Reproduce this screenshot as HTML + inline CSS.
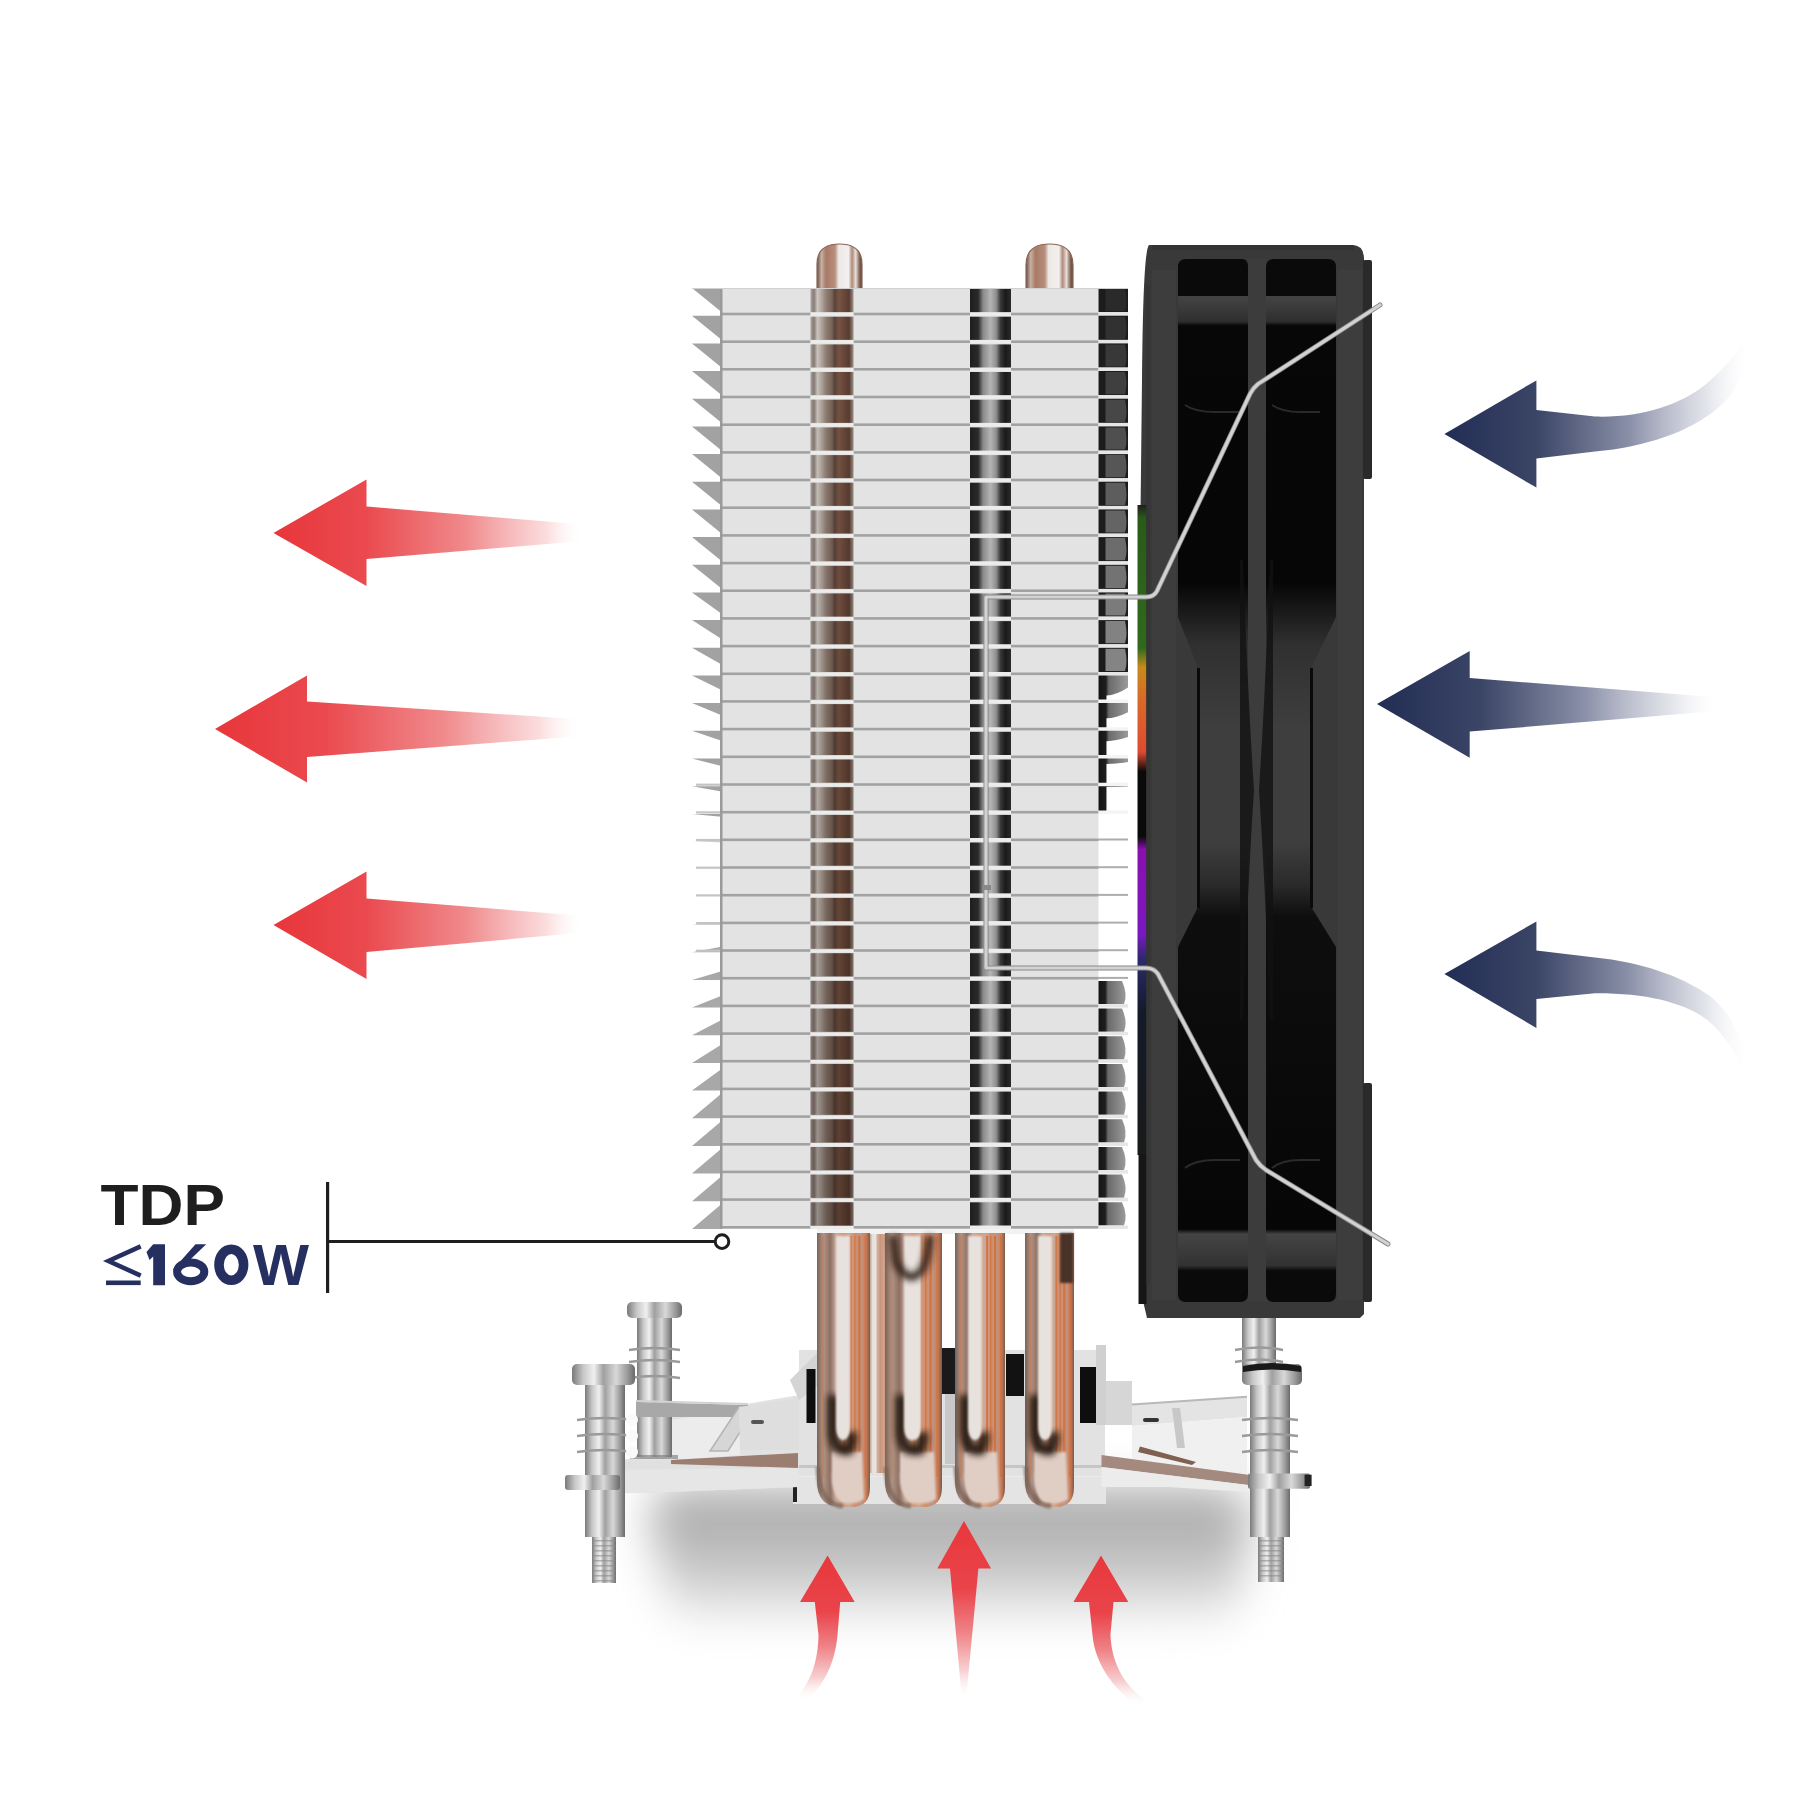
<!DOCTYPE html>
<html><head><meta charset="utf-8"><title>CPU cooler airflow</title>
<style>html,body{margin:0;padding:0;background:#fff;width:1800px;height:1800px;overflow:hidden}svg{display:block}</style>
</head><body><svg width="1800" height="1800" viewBox="0 0 1800 1800"><defs><linearGradient id="redL" x1="0" y1="0" x2="1" y2="0">
<stop offset="0" stop-color="#e8363b"/><stop offset="0.3" stop-color="#ea4a4f"/>
<stop offset="0.62" stop-color="#f08a8c"/><stop offset="0.88" stop-color="#fbd9da" stop-opacity="0.9"/><stop offset="1" stop-color="#ffffff" stop-opacity="0"/></linearGradient><linearGradient id="blueR" x1="0" y1="0" x2="1" y2="0">
<stop offset="0" stop-color="#222d55"/><stop offset="0.3" stop-color="#3b4566"/>
<stop offset="0.6" stop-color="#8a90a8"/><stop offset="0.85" stop-color="#dcdee6" stop-opacity="0.8"/><stop offset="1" stop-color="#ffffff" stop-opacity="0"/></linearGradient><linearGradient id="redU" x1="0" y1="0" x2="0" y2="1">
<stop offset="0" stop-color="#e8383c"/><stop offset="0.38" stop-color="#e9444a"/><stop offset="0.62" stop-color="#ef8286"/><stop offset="0.84" stop-color="#f8d2d4"/><stop offset="1" stop-color="#ffffff" stop-opacity="0"/></linearGradient><radialGradient id="shadow" cx="0.5" cy="0.35" r="0.5">
<stop offset="0" stop-color="#a4a4a4"/><stop offset="0.45" stop-color="#b4b4b4"/><stop offset="0.75" stop-color="#dedede"/><stop offset="1" stop-color="#ffffff" stop-opacity="0"/></radialGradient><linearGradient id="pipeStrip" x1="0" y1="0" x2="1" y2="0">
<stop offset="0" stop-color="#b0aaa6"/><stop offset="0.08" stop-color="#8a7e78"/><stop offset="0.16" stop-color="#d0cac4"/><stop offset="0.26" stop-color="#b4aaa2"/>
<stop offset="0.36" stop-color="#948278"/><stop offset="0.5" stop-color="#7a665a"/><stop offset="0.56" stop-color="#5a463c"/><stop offset="0.66" stop-color="#7a5646"/><stop offset="0.9" stop-color="#5a3e32"/><stop offset="1" stop-color="#a09890"/></linearGradient><linearGradient id="stripB" x1="0" y1="0" x2="1" y2="0">
<stop offset="0" stop-color="#1e1e1e"/><stop offset="0.2" stop-color="#2a2a2a"/><stop offset="0.32" stop-color="#8a8a8a"/><stop offset="0.5" stop-color="#b4b4b4"/><stop offset="0.64" stop-color="#8e8e8e"/><stop offset="0.74" stop-color="#3a3a3a"/><stop offset="0.86" stop-color="#1a1a1a"/><stop offset="1" stop-color="#2a2a2a"/></linearGradient><linearGradient id="stripC" x1="0" y1="0" x2="1" y2="0">
<stop offset="0" stop-color="#1c1c1c"/><stop offset="0.25" stop-color="#262626"/><stop offset="0.5" stop-color="#3e3e3e"/><stop offset="1" stop-color="#505050"/></linearGradient><linearGradient id="stripC2" x1="0" y1="0" x2="1" y2="0">
<stop offset="0" stop-color="#141414"/><stop offset="0.25" stop-color="#1e1e1e"/><stop offset="0.35" stop-color="#6a6a6a"/><stop offset="1" stop-color="#9a9a9a"/></linearGradient><linearGradient id="metal" x1="0" y1="0" x2="1" y2="0">
<stop offset="0" stop-color="#7a7a7a"/><stop offset="0.18" stop-color="#c8c8c8"/><stop offset="0.35" stop-color="#f0f0f0"/><stop offset="0.5" stop-color="#a0a0a0"/><stop offset="0.7" stop-color="#d8d8d8"/><stop offset="0.88" stop-color="#9a9a9a"/><stop offset="1" stop-color="#6a6a6a"/></linearGradient><linearGradient id="copper" x1="0" y1="0" x2="1" y2="0">
<stop offset="0" stop-color="#8a7466"/><stop offset="0.1" stop-color="#a88a78"/><stop offset="0.22" stop-color="#e6dcd6"/><stop offset="0.32" stop-color="#f2ece8"/><stop offset="0.42" stop-color="#b98a70"/>
<stop offset="0.55" stop-color="#d2845e"/><stop offset="0.68" stop-color="#c49a86"/><stop offset="0.8" stop-color="#d7886a"/><stop offset="0.92" stop-color="#9a7a6a"/><stop offset="1" stop-color="#6a5a50"/></linearGradient><linearGradient id="capG" x1="0" y1="0" x2="1" y2="0">
<stop offset="0" stop-color="#6a5046"/><stop offset="0.1" stop-color="#c8b0a4"/><stop offset="0.2" stop-color="#a87a66"/><stop offset="0.4" stop-color="#b88e7c"/><stop offset="0.48" stop-color="#ece8e6"/><stop offset="0.7" stop-color="#f2f0ee"/><stop offset="0.78" stop-color="#b08a78"/><stop offset="0.86" stop-color="#e6e0dc"/><stop offset="0.94" stop-color="#8a6a5a"/><stop offset="1" stop-color="#5a4038"/></linearGradient><linearGradient id="fanMid" x1="0" y1="0" x2="0" y2="1">
<stop offset="0" stop-color="#3a3a3a" stop-opacity="0"/><stop offset="0.25" stop-color="#3a3a3a" stop-opacity="0.9"/><stop offset="0.6" stop-color="#3a3a3a" stop-opacity="0.9"/><stop offset="1" stop-color="#3a3a3a" stop-opacity="0"/></linearGradient><linearGradient id="rgb" x1="0" y1="0" x2="0" y2="1">
<stop offset="0" stop-color="#1e1e1e"/><stop offset="0.02" stop-color="#2a5a1a"/><stop offset="0.22" stop-color="#2f6a1c"/><stop offset="0.25" stop-color="#c88a1a"/><stop offset="0.3" stop-color="#d86a28"/><stop offset="0.38" stop-color="#e04a30"/><stop offset="0.41" stop-color="#0a0a0a"/><stop offset="0.51" stop-color="#0a0a0a"/><stop offset="0.53" stop-color="#8a10b0"/><stop offset="0.66" stop-color="#7a18c0"/><stop offset="0.7" stop-color="#2a2a6a"/><stop offset="0.78" stop-color="#141a2a"/><stop offset="1" stop-color="#1a1a1a"/></linearGradient><filter id="blur30" x="-50%" y="-50%" width="200%" height="200%"><feGaussianBlur stdDeviation="22"/></filter><linearGradient id="shG" x1="0" y1="0" x2="0" y2="1"><stop offset="0" stop-color="#a6a6a6"/><stop offset="0.35" stop-color="#b6b6b6"/><stop offset="0.7" stop-color="#d4d4d4"/><stop offset="1" stop-color="#ffffff"/></linearGradient><linearGradient id="copper2" x1="0" y1="0" x2="1" y2="0">
<stop offset="0" stop-color="#6a5a52"/><stop offset="0.06" stop-color="#9a8274"/><stop offset="0.2" stop-color="#bca496"/><stop offset="0.3" stop-color="#e6dfda"/><stop offset="0.42" stop-color="#ebe5e1"/><stop offset="0.5" stop-color="#cdb0a0"/>
<stop offset="0.62" stop-color="#c8967c"/><stop offset="0.75" stop-color="#d2a48e"/><stop offset="0.88" stop-color="#c08a70"/><stop offset="0.96" stop-color="#9a7868"/><stop offset="1" stop-color="#6a5a52"/></linearGradient><filter id="blur3" x="-50%" y="-50%" width="200%" height="200%"><feGaussianBlur stdDeviation="3"/></filter><filter id="blur4" x="-50%" y="-50%" width="200%" height="200%"><feGaussianBlur stdDeviation="4.5"/></filter><filter id="blur1" x="-50%" y="-50%" width="200%" height="200%"><feGaussianBlur stdDeviation="1.2"/></filter><linearGradient id="copper3" x1="0" y1="0" x2="1" y2="0">
<stop offset="0" stop-color="#7a6256"/><stop offset="0.12" stop-color="#b09486"/><stop offset="0.25" stop-color="#8e7062"/><stop offset="0.36" stop-color="#c8aa9c"/><stop offset="0.5" stop-color="#d49a7c"/><stop offset="0.6" stop-color="#c8aa9a"/>
<stop offset="0.72" stop-color="#d48c66"/><stop offset="0.82" stop-color="#bc9888"/><stop offset="0.92" stop-color="#d08058"/><stop offset="1" stop-color="#7a5a4a"/></linearGradient><linearGradient id="shadeA" x1="0" y1="0" x2="0" y2="1"><stop offset="0" stop-color="#000" stop-opacity="0"/><stop offset="0.4" stop-color="#000" stop-opacity="0.1"/><stop offset="1" stop-color="#000" stop-opacity="0.32"/></linearGradient><linearGradient id="recG" x1="0" y1="0" x2="0" y2="1">
<stop offset="0" stop-color="#0a0a0a"/><stop offset="0.035" stop-color="#0a0a0a"/><stop offset="0.036" stop-color="#444444"/><stop offset="0.06" stop-color="#2e2e2e"/><stop offset="0.064" stop-color="#070707"/>
<stop offset="0.31" stop-color="#060606"/><stop offset="0.37" stop-color="#303030"/><stop offset="0.45" stop-color="#3e3e3e"/><stop offset="0.56" stop-color="#3e3e3e"/><stop offset="0.6" stop-color="#2a2a2a"/><stop offset="0.63" stop-color="#0e0e0e"/>
<stop offset="0.93" stop-color="#060606"/><stop offset="0.935" stop-color="#444444"/><stop offset="0.965" stop-color="#323232"/><stop offset="0.97" stop-color="#0a0a0a"/><stop offset="1" stop-color="#0a0a0a"/></linearGradient></defs><rect x="0" y="0" width="1800" height="1800" fill="#ffffff"/><path d="M680 1488 L1210 1488 Q1250 1488 1250 1520 L1240 1600 Q1235 1630 1190 1630 L720 1630 Q675 1630 668 1600 L650 1520 Q650 1488 680 1488 Z" fill="url(#shG)" filter="url(#blur30)"/><path d="M964 1521 L991.1 1568.6 L978.4 1568.6 L966 1700 L962 1700 L950 1568.6 L937.3 1568.6 Z" fill="url(#redU)"/><path d="M827.6 1555.6 L854.7 1602 L840.2 1602 L837.5 1635 C835 1665 822 1688 805 1702 L793 1702 C812 1682 818 1660 818.5 1635 L814.8 1602 L800 1602 Z" fill="url(#redU)"/><path d="M1101 1555.6 L1128.3 1602 L1113.5 1602 L1110.4 1635 C1112 1665 1125 1688 1152 1705 L1138 1707 C1115 1690 1095 1665 1092.5 1635 L1089 1602 L1073.4 1602 Z" fill="url(#redU)"/><path d="M273.5 532.9 L366.5 479.5 L366.5 506.5 L584 524.5 L584 541 L366.5 559 L366.5 586 Z" fill="url(#redL)"/><path d="M215 729 L307 675.4 L307 701.5 L584 719.5 L584 736 L307 757 L307 782.5 Z" fill="url(#redL)"/><path d="M273.5 925 L366.5 871.6 L366.5 898.6 L584 916 L584 932.5 L366.5 952 L366.5 979 Z" fill="url(#redL)"/><path d="M1444.4 434 L1536.4 380.4 L1536.4 410 L1595 416.6 C1640 418 1680 405 1705 385 C1728 366 1744 345 1751 325 L1753 332 C1750 365 1738 392 1718 408 C1690 432 1645 447 1595 451.6 L1536.4 458.4 L1536.4 487.6 Z" fill="url(#blueR)"/><path d="M1377 704 L1469.7 651 L1469.7 678 L1723 697.8 L1723 710.5 L1469.7 731.6 L1469.7 757.7 Z" fill="url(#blueR)"/><path d="M1444.4 974 L1536.4 921.5 L1536.4 950.6 L1595 957.4 C1640 962 1680 975 1710 996 C1730 1012 1745 1040 1752 1075 L1748 1082 C1740 1058 1728 1040 1712 1024 C1690 1004 1650 993 1595 993.3 L1536.4 999 L1536.4 1027.9 Z" fill="url(#blueR)"/><text x="100.5" y="1225" font-family="Liberation Sans, sans-serif" font-weight="bold" font-size="57" fill="#1e1e1e" textLength="124.5" lengthAdjust="spacingAndGlyphs">TDP</text><path d="M140.7 1246.3 L108.5 1261 L140.7 1275.6" stroke="#253060" stroke-width="4.6" fill="none" stroke-linejoin="miter"/><rect x="106" y="1280.5" width="34.7" height="4.6" fill="#253060"/><path d="M153.2 1244.3 L165 1244.3 L165 1285.3 L153.2 1285.3 L153.2 1256.5 L149.5 1260 L146.5 1252 Z" fill="#253060"/><ellipse cx="190.7" cy="1271.8" rx="13.6" ry="9.4" stroke="#253060" stroke-width="8" fill="none"/><path d="M172.6 1270 L195.5 1244.3 L206.2 1244.3 L182.5 1267 Z" fill="#253060"/><ellipse cx="231.3" cy="1264.8" rx="12.3" ry="15.5" stroke="#253060" stroke-width="9.6" fill="none"/><path d="M254.6 1244.3 L266.2 1244.3 L274.6 1272.5 L283.4 1244.3 L292.2 1244.3 L300.9 1272.5 L307.4 1244.3 L307.4 1244.3 L307.4 1244.3 Z" fill="none"/><text x="253" y="1285.3" font-family="Liberation Sans, sans-serif" font-weight="bold" font-size="57" fill="#253060" textLength="56" lengthAdjust="spacingAndGlyphs">W</text><rect x="326" y="1182" width="3.2" height="111" fill="#1e1e1e"/><rect x="328" y="1240" width="386" height="3" fill="#1e1e1e"/><circle cx="722" cy="1241.6" r="6.8" fill="#ffffff" stroke="#1e1e1e" stroke-width="3"/><rect x="637" y="1318" width="35" height="139" fill="url(#metal)"/><rect x="627" y="1302" width="55" height="16" rx="5" fill="url(#metal)"/><path d="M629 1350 Q654.5 1346 680 1350" stroke="#9a9a9a" stroke-width="2.5" fill="none"/><path d="M629 1362 Q654.5 1358 680 1362" stroke="#9a9a9a" stroke-width="2.5" fill="none"/><path d="M629 1378 Q654.5 1374 680 1378" stroke="#9a9a9a" stroke-width="2.5" fill="none"/><rect x="1242" y="1318" width="34" height="60" fill="url(#metal)"/><path d="M1235 1350 Q1259 1345 1283 1350 M1235 1362 Q1259 1357 1283 1362" stroke="#9a9a9a" stroke-width="2.5" fill="none"/><path d="M640 1418 L740 1405 L800 1395 L800 1487 L640 1493 L600 1493 L600 1462 L640 1458 Z" fill="#e2e2e2"/><path d="M671 1420 L740 1410 L740 1455 L671 1460 Z" fill="#ececec"/><path d="M636 1402 L748 1405 L748 1417 L636 1417 Z" fill="#a8a8a8"/><path d="M636 1401 L748 1404" stroke="#d2d2d2" stroke-width="2" fill="none"/><path d="M710 1451 L728 1451 L756 1407 L739 1407 Z" fill="#d6d6d6" stroke="#b4b4b4" stroke-width="1.5"/><path d="M739 1407 L800 1398 L800 1450 L740 1450 Z" fill="#dedede"/><rect x="751" y="1420" width="13" height="4" rx="2" fill="#555"/><rect x="1104" y="1381" width="28" height="44" fill="#d6d6d6"/><path d="M1132 1404.5 L1247 1396.8 L1247 1417 L1132 1426 Z" fill="#e4e4e4"/><path d="M1132 1404.5 L1247 1396.8" stroke="#b8b8b8" stroke-width="2" fill="none"/><path d="M1132 1426 L1247 1417 L1247 1474 L1132 1462 Z" fill="#f0f0f0"/><rect x="1143" y="1418" width="16" height="4" rx="2" fill="#333"/><path d="M1172 1408 L1180 1408 L1185 1448 L1177 1448 Z" fill="#c8c8c8"/><rect x="799" y="1350" width="306" height="128" fill="#e2e2e2"/><path d="M790 1380 L835 1335 L850 1335 L850 1360 L799 1400 Z" fill="#d4d4d4"/><rect x="806.5" y="1369" width="9" height="54" fill="#0e0e0e"/><rect x="866" y="1367" width="18" height="26" fill="#141414"/><rect x="937" y="1348" width="20" height="46" fill="#1a1a1a"/><rect x="945" y="1394" width="10" height="70" fill="#c8c8c8"/><rect x="1006" y="1354" width="18" height="42" fill="#121212"/><rect x="1080" y="1367" width="16" height="56" fill="#0e0e0e"/><rect x="1096" y="1345" width="10" height="80" fill="#d0d0d0"/><rect x="799" y="1465" width="306" height="3" fill="#c6c6c6"/><rect x="733" y="1476" width="434" height="11" fill="#ececec"/><rect x="793" y="1477" width="313" height="30" fill="#e4e4e4"/><rect x="793" y="1504" width="313" height="3" fill="#bdbdbd"/><rect x="793" y="1482" width="4" height="20" fill="#222"/><path d="M600 1462 L671 1460 L798 1453 L798 1487 L640 1493 L600 1493 Z" fill="#e0e0e0"/><path d="M671 1460 L798 1453 L798 1468 L671 1464 Z" fill="#9c7e70"/><path d="M600 1470 L798 1468 L798 1487 L640 1493 L600 1493 Z" fill="#e6e6e6"/><path d="M1101.5 1455 L1248.4 1474.7 L1248 1485 L1101.5 1467 Z" fill="#a48a7e"/><path d="M1140 1446.6 L1196 1462 L1192 1465 L1138 1452 Z" fill="#806050"/><path d="M1101.5 1467 L1248 1485 L1248 1492 L1168 1487 L1101.5 1487 Z" fill="#ececec"/><rect x="637" y="1417" width="35" height="40" fill="url(#metal)"/><rect x="630" y="1455" width="48" height="4" fill="#777" opacity="0.6"/><rect x="585" y="1385" width="40" height="152" fill="url(#metal)"/><rect x="592" y="1537" width="24" height="46" fill="url(#metal)"/><rect x="592" y="1540" width="24" height="1.5" fill="#8a8a8a" opacity="0.6"/><rect x="592" y="1545" width="24" height="1.5" fill="#8a8a8a" opacity="0.6"/><rect x="592" y="1550" width="24" height="1.5" fill="#8a8a8a" opacity="0.6"/><rect x="592" y="1555" width="24" height="1.5" fill="#8a8a8a" opacity="0.6"/><rect x="592" y="1560" width="24" height="1.5" fill="#8a8a8a" opacity="0.6"/><rect x="592" y="1565" width="24" height="1.5" fill="#8a8a8a" opacity="0.6"/><rect x="592" y="1570" width="24" height="1.5" fill="#8a8a8a" opacity="0.6"/><rect x="592" y="1575" width="24" height="1.5" fill="#8a8a8a" opacity="0.6"/><rect x="592" y="1580" width="24" height="1.5" fill="#8a8a8a" opacity="0.6"/><rect x="572" y="1364" width="63" height="21" rx="5" fill="url(#metal)"/><path d="M577 1420 Q605.0 1416 633 1420" stroke="#9a9a9a" stroke-width="2.5" fill="none"/><path d="M577 1436 Q605.0 1432 633 1436" stroke="#9a9a9a" stroke-width="2.5" fill="none"/><path d="M577 1452 Q605.0 1448 633 1452" stroke="#9a9a9a" stroke-width="2.5" fill="none"/><rect x="565" y="1475" width="55" height="15" rx="3" fill="url(#metal)"/><ellipse cx="632" cy="1420" rx="6" ry="6.5" fill="#fafafa"/><ellipse cx="632" cy="1436" rx="6" ry="6.5" fill="#fafafa"/><ellipse cx="632" cy="1452" rx="6" ry="6.5" fill="#fafafa"/><rect x="1250" y="1385" width="40" height="152" fill="url(#metal)"/><rect x="1258" y="1537" width="26" height="45" fill="url(#metal)"/><rect x="1258" y="1540" width="26" height="1.5" fill="#8a8a8a" opacity="0.6"/><rect x="1258" y="1545" width="26" height="1.5" fill="#8a8a8a" opacity="0.6"/><rect x="1258" y="1550" width="26" height="1.5" fill="#8a8a8a" opacity="0.6"/><rect x="1258" y="1555" width="26" height="1.5" fill="#8a8a8a" opacity="0.6"/><rect x="1258" y="1560" width="26" height="1.5" fill="#8a8a8a" opacity="0.6"/><rect x="1258" y="1565" width="26" height="1.5" fill="#8a8a8a" opacity="0.6"/><rect x="1258" y="1570" width="26" height="1.5" fill="#8a8a8a" opacity="0.6"/><rect x="1258" y="1575" width="26" height="1.5" fill="#8a8a8a" opacity="0.6"/><rect x="1242" y="1364" width="60" height="21" rx="5" fill="url(#metal)"/><path d="M1242 1420 Q1270.0 1416 1298 1420" stroke="#9a9a9a" stroke-width="2.5" fill="none"/><path d="M1242 1436 Q1270.0 1432 1298 1436" stroke="#9a9a9a" stroke-width="2.5" fill="none"/><path d="M1242 1452 Q1270.0 1448 1298 1452" stroke="#9a9a9a" stroke-width="2.5" fill="none"/><rect x="1248" y="1473.5" width="62" height="15.3" rx="2" fill="url(#metal)"/><rect x="1304.6" y="1474.7" width="7" height="11.3" fill="#222"/><path d="M1243 1366 Q1272 1360 1301 1366 L1301 1372 Q1272 1367 1243 1372 Z" fill="#1a1a1a"/><rect x="865" y="1233" width="25" height="240" fill="url(#copper2)"/><rect x="817" y="1229" width="257" height="5" fill="#f2f2f2"/><path d="M817 1233 L870 1233 L870 1487 Q870 1507 852 1507 L841 1507 Q817 1507 817 1481 Z" fill="url(#copper3)"/><rect x="849.9" y="1236" width="2" height="241" fill="#d2703e" opacity="0.85"/><rect x="854.1" y="1236" width="1.5" height="241" fill="#d2703e" opacity="0.7"/><rect x="858.3" y="1236" width="2.2" height="241" fill="#d2703e" opacity="0.9"/><rect x="864.7" y="1236" width="1.8" height="241" fill="#d2703e" opacity="0.8"/><rect x="822.3" y="1236" width="1.5" height="241" fill="#d2703e" opacity="0.5"/><rect x="843.5" y="1236" width="1.5" height="241" fill="#d2703e" opacity="0.6"/><path d="M832 1452 L862 1452 L864 1499 Q856 1505 842 1503 Q830 1493 832 1470 Z" fill="#e0cec4" filter="url(#blur1)"/><path d="M833 1395 L833 1432 Q834 1450 846 1450 L848 1450 Q852 1448 852 1432" stroke="#22140e" stroke-width="11" fill="none" filter="url(#blur3)" opacity="0.92"/><path d="M836 1236 L850 1236 L850 1425 Q850 1440 842 1440 L844 1440 Q836 1440 836 1425 Z" fill="#e8e2de" filter="url(#blur1)"/><path d="M818 1467 Q819 1505 843 1506" stroke="#7a6458" stroke-width="5" fill="none" opacity="0.7" filter="url(#blur1)"/><path d="M885 1233 L942 1233 L942 1487 Q942 1507 924 1507 L909 1507 Q885 1507 885 1481 Z" fill="url(#copper3)"/><rect x="920.3" y="1236" width="2" height="241" fill="#d2703e" opacity="0.85"/><rect x="924.9" y="1236" width="1.5" height="241" fill="#d2703e" opacity="0.7"/><rect x="929.5" y="1236" width="2.2" height="241" fill="#d2703e" opacity="0.9"/><rect x="936.3" y="1236" width="1.8" height="241" fill="#d2703e" opacity="0.8"/><rect x="890.7" y="1236" width="1.5" height="241" fill="#d2703e" opacity="0.5"/><rect x="913.5" y="1236" width="1.5" height="241" fill="#d2703e" opacity="0.6"/><path d="M900 1452 L934 1452 L936 1499 Q928 1505 910 1503 Q898 1493 900 1470 Z" fill="#e0cec4" filter="url(#blur1)"/><path d="M901 1395 L901 1432 Q902 1450 914 1450 L919 1450 Q923 1448 923 1432" stroke="#22140e" stroke-width="11" fill="none" filter="url(#blur3)" opacity="0.92"/><path d="M904 1236 L921 1236 L921 1425 Q921 1440 913 1440 L912 1440 Q904 1440 904 1425 Z" fill="#e8e2de" filter="url(#blur1)"/><path d="M886 1467 Q887 1505 911 1506" stroke="#7a6458" stroke-width="5" fill="none" opacity="0.7" filter="url(#blur1)"/><path d="M955 1233 L1005 1233 L1005 1487 Q1005 1507 987 1507 L979 1507 Q955 1507 955 1481 Z" fill="url(#copper3)"/><rect x="986.0" y="1236" width="2" height="241" fill="#d2703e" opacity="0.85"/><rect x="990.0" y="1236" width="1.5" height="241" fill="#d2703e" opacity="0.7"/><rect x="994.0" y="1236" width="2.2" height="241" fill="#d2703e" opacity="0.9"/><rect x="1000.0" y="1236" width="1.8" height="241" fill="#d2703e" opacity="0.8"/><rect x="960.0" y="1236" width="1.5" height="241" fill="#d2703e" opacity="0.5"/><rect x="980.0" y="1236" width="1.5" height="241" fill="#d2703e" opacity="0.6"/><path d="M964 1452 L997 1452 L999 1499 Q991 1505 974 1503 Q962 1493 964 1470 Z" fill="#e0cec4" filter="url(#blur1)"/><path d="M965 1395 L965 1432 Q966 1450 978 1450 L980 1450 Q984 1448 984 1432" stroke="#22140e" stroke-width="11" fill="none" filter="url(#blur3)" opacity="0.92"/><path d="M968 1236 L982 1236 L982 1425 Q982 1440 974 1440 L976 1440 Q968 1440 968 1425 Z" fill="#e8e2de" filter="url(#blur1)"/><path d="M956 1467 Q957 1505 981 1506" stroke="#7a6458" stroke-width="5" fill="none" opacity="0.7" filter="url(#blur1)"/><path d="M1025 1233 L1074 1233 L1074 1487 Q1074 1507 1056 1507 L1049 1507 Q1025 1507 1025 1481 Z" fill="url(#copper3)"/><rect x="1055.4" y="1236" width="2" height="241" fill="#d2703e" opacity="0.85"/><rect x="1059.3" y="1236" width="1.5" height="241" fill="#d2703e" opacity="0.7"/><rect x="1063.2" y="1236" width="2.2" height="241" fill="#d2703e" opacity="0.9"/><rect x="1069.1" y="1236" width="1.8" height="241" fill="#d2703e" opacity="0.8"/><rect x="1029.9" y="1236" width="1.5" height="241" fill="#d2703e" opacity="0.5"/><rect x="1049.5" y="1236" width="1.5" height="241" fill="#d2703e" opacity="0.6"/><path d="M1034 1452 L1066 1452 L1068 1499 Q1060 1505 1044 1503 Q1032 1493 1034 1470 Z" fill="#e0cec4" filter="url(#blur1)"/><path d="M1035 1395 L1035 1432 Q1036 1450 1048 1450 L1050 1450 Q1054 1448 1054 1432" stroke="#22140e" stroke-width="11" fill="none" filter="url(#blur3)" opacity="0.92"/><path d="M1038 1236 L1052 1236 L1052 1425 Q1052 1440 1044 1440 L1046 1440 Q1038 1440 1038 1425 Z" fill="#e8e2de" filter="url(#blur1)"/><path d="M1026 1467 Q1027 1505 1051 1506" stroke="#7a6458" stroke-width="5" fill="none" opacity="0.7" filter="url(#blur1)"/><path d="M893 1236 L896 1262 Q905 1280 915 1276 Q925 1272 928 1250 L930 1236" stroke="#2a1a12" stroke-width="8" fill="none" filter="url(#blur3)" opacity="0.9"/><rect x="1060" y="1233" width="13" height="50" fill="#3a2a22" opacity="0.9" filter="url(#blur1)"/><path d="M817 292 L817 264.2 Q817 244 839.5 244 Q862 244 862 264.2 L862 292 Z" fill="url(#capG)" stroke="#8a6656" stroke-width="1.2"/><path d="M1026 292 L1026 265.1 Q1026 244 1049.5 244 Q1073 244 1073 265.1 L1073 292 Z" fill="url(#capG)" stroke="#8a6656" stroke-width="1.2"/><rect x="721.5" y="288.0" width="377.0" height="941.0" fill="#e3e3e3"/><path d="M692 288.0 L721.5 288.0 L721.5 312.0 Z" fill="#a2a2a2"/><rect x="721.5" y="312.7" width="89.0" height="2.6" fill="#a2a2a2"/><rect x="853.5" y="312.7" width="116.5" height="2.6" fill="#a2a2a2"/><rect x="1011" y="312.7" width="87.5" height="2.6" fill="#a2a2a2"/><rect x="810.5" y="289.0" width="43.0" height="23.7" fill="url(#pipeStrip)"/><rect x="810.5" y="312.2" width="43.0" height="3.5" fill="#ececea"/><rect x="970" y="289.0" width="41" height="23.7" fill="url(#stripB)"/><rect x="970" y="312.2" width="41" height="3.5" fill="#ececec"/><rect x="1098.5" y="288.0" width="29.5" height="24.2" fill="#1c1c1c"/><path d="M1105.5 289.0 L1125 289.0 Q1128 301.8 1125 311.2 L1105.5 311.2 Z" fill="#2c2c2c" opacity="0.9"/><rect x="1098.5" y="312.2" width="29.5" height="3.5" fill="#e6e6e6"/><path d="M692 315.7 L721.5 315.7 L721.5 339.7 Z" fill="#a2a2a2"/><rect x="721.5" y="340.4" width="89.0" height="2.6" fill="#a2a2a2"/><rect x="853.5" y="340.4" width="116.5" height="2.6" fill="#a2a2a2"/><rect x="1011" y="340.4" width="87.5" height="2.6" fill="#a2a2a2"/><rect x="810.5" y="316.7" width="43.0" height="23.7" fill="url(#pipeStrip)"/><rect x="810.5" y="339.9" width="43.0" height="3.5" fill="#ececea"/><rect x="970" y="316.7" width="41" height="23.7" fill="url(#stripB)"/><rect x="970" y="339.9" width="41" height="3.5" fill="#ececec"/><rect x="1098.5" y="315.7" width="29.5" height="24.2" fill="#1c1c1c"/><path d="M1105.5 316.7 L1125 316.7 Q1128 329.5 1125 338.9 L1105.5 338.9 Z" fill="#343434" opacity="0.9"/><rect x="1098.5" y="339.9" width="29.5" height="3.5" fill="#e6e6e6"/><path d="M692 343.4 L721.5 343.4 L721.5 367.4 Z" fill="#a2a2a2"/><rect x="721.5" y="368.0" width="89.0" height="2.6" fill="#a2a2a2"/><rect x="853.5" y="368.0" width="116.5" height="2.6" fill="#a2a2a2"/><rect x="1011" y="368.0" width="87.5" height="2.6" fill="#a2a2a2"/><rect x="810.5" y="344.4" width="43.0" height="23.7" fill="url(#pipeStrip)"/><rect x="810.5" y="367.5" width="43.0" height="3.5" fill="#ececea"/><rect x="970" y="344.4" width="41" height="23.7" fill="url(#stripB)"/><rect x="970" y="367.5" width="41" height="3.5" fill="#ececec"/><rect x="1098.5" y="343.4" width="29.5" height="24.2" fill="#1c1c1c"/><path d="M1105.5 344.4 L1125 344.4 Q1128 357.2 1125 366.5 L1105.5 366.5 Z" fill="#3c3c3c" opacity="0.9"/><rect x="1098.5" y="367.5" width="29.5" height="3.5" fill="#e6e6e6"/><path d="M692 371.0 L721.5 371.0 L721.5 395.0 Z" fill="#a2a2a2"/><rect x="721.5" y="395.7" width="89.0" height="2.6" fill="#a2a2a2"/><rect x="853.5" y="395.7" width="116.5" height="2.6" fill="#a2a2a2"/><rect x="1011" y="395.7" width="87.5" height="2.6" fill="#a2a2a2"/><rect x="810.5" y="372.0" width="43.0" height="23.7" fill="url(#pipeStrip)"/><rect x="810.5" y="395.2" width="43.0" height="3.5" fill="#ececea"/><rect x="970" y="372.0" width="41" height="23.7" fill="url(#stripB)"/><rect x="970" y="395.2" width="41" height="3.5" fill="#ececec"/><rect x="1098.5" y="371.0" width="29.5" height="24.2" fill="#1c1c1c"/><path d="M1105.5 372.0 L1125 372.0 Q1128 384.9 1125 394.2 L1105.5 394.2 Z" fill="#444444" opacity="0.9"/><rect x="1098.5" y="395.2" width="29.5" height="3.5" fill="#e6e6e6"/><path d="M692 398.7 L721.5 398.7 L721.5 422.7 Z" fill="#a2a2a2"/><rect x="721.5" y="423.4" width="89.0" height="2.6" fill="#a2a2a2"/><rect x="853.5" y="423.4" width="116.5" height="2.6" fill="#a2a2a2"/><rect x="1011" y="423.4" width="87.5" height="2.6" fill="#a2a2a2"/><rect x="810.5" y="399.7" width="43.0" height="23.7" fill="url(#pipeStrip)"/><rect x="810.5" y="422.9" width="43.0" height="3.5" fill="#ececea"/><rect x="970" y="399.7" width="41" height="23.7" fill="url(#stripB)"/><rect x="970" y="422.9" width="41" height="3.5" fill="#ececec"/><rect x="1098.5" y="398.7" width="29.5" height="24.2" fill="#1c1c1c"/><path d="M1105.5 399.7 L1125 399.7 Q1128 412.5 1125 421.9 L1105.5 421.9 Z" fill="#4d4d4d" opacity="0.9"/><rect x="1098.5" y="422.9" width="29.5" height="3.5" fill="#e6e6e6"/><path d="M692 426.4 L721.5 426.4 L721.5 450.4 Z" fill="#a2a2a2"/><rect x="721.5" y="451.1" width="89.0" height="2.6" fill="#a2a2a2"/><rect x="853.5" y="451.1" width="116.5" height="2.6" fill="#a2a2a2"/><rect x="1011" y="451.1" width="87.5" height="2.6" fill="#a2a2a2"/><rect x="810.5" y="427.4" width="43.0" height="23.7" fill="url(#pipeStrip)"/><rect x="810.5" y="450.6" width="43.0" height="3.5" fill="#ececea"/><rect x="970" y="427.4" width="41" height="23.7" fill="url(#stripB)"/><rect x="970" y="450.6" width="41" height="3.5" fill="#ececec"/><rect x="1098.5" y="426.4" width="29.5" height="24.2" fill="#1c1c1c"/><path d="M1105.5 427.4 L1125 427.4 Q1128 440.2 1125 449.6 L1105.5 449.6 Z" fill="#555555" opacity="0.9"/><rect x="1098.5" y="450.6" width="29.5" height="3.5" fill="#e6e6e6"/><path d="M692 454.1 L721.5 454.1 L721.5 478.1 Z" fill="#a2a2a2"/><rect x="721.5" y="478.7" width="89.0" height="2.6" fill="#a2a2a2"/><rect x="853.5" y="478.7" width="116.5" height="2.6" fill="#a2a2a2"/><rect x="1011" y="478.7" width="87.5" height="2.6" fill="#a2a2a2"/><rect x="810.5" y="455.1" width="43.0" height="23.7" fill="url(#pipeStrip)"/><rect x="810.5" y="478.2" width="43.0" height="3.5" fill="#ececea"/><rect x="970" y="455.1" width="41" height="23.7" fill="url(#stripB)"/><rect x="970" y="478.2" width="41" height="3.5" fill="#ececec"/><rect x="1098.5" y="454.1" width="29.5" height="24.2" fill="#1c1c1c"/><path d="M1105.5 455.1 L1125 455.1 Q1128 467.9 1125 477.2 L1105.5 477.2 Z" fill="#5d5d5d" opacity="0.9"/><rect x="1098.5" y="478.2" width="29.5" height="3.5" fill="#e6e6e6"/><path d="M692 481.7 L721.5 481.7 L721.5 505.7 Z" fill="#a2a2a2"/><rect x="721.5" y="506.4" width="89.0" height="2.6" fill="#a2a2a2"/><rect x="853.5" y="506.4" width="116.5" height="2.6" fill="#a2a2a2"/><rect x="1011" y="506.4" width="87.5" height="2.6" fill="#a2a2a2"/><rect x="810.5" y="482.7" width="43.0" height="23.7" fill="url(#pipeStrip)"/><rect x="810.5" y="505.9" width="43.0" height="3.5" fill="#ececea"/><rect x="970" y="482.7" width="41" height="23.7" fill="url(#stripB)"/><rect x="970" y="505.9" width="41" height="3.5" fill="#ececec"/><rect x="1098.5" y="481.7" width="29.5" height="24.2" fill="#1c1c1c"/><path d="M1105.5 482.7 L1125 482.7 Q1128 495.6 1125 504.9 L1105.5 504.9 Z" fill="#656565" opacity="0.9"/><rect x="1098.5" y="505.9" width="29.5" height="3.5" fill="#e6e6e6"/><path d="M692 509.4 L721.5 509.4 L721.5 533.4 Z" fill="#a2a2a2"/><rect x="721.5" y="534.1" width="89.0" height="2.6" fill="#a2a2a2"/><rect x="853.5" y="534.1" width="116.5" height="2.6" fill="#a2a2a2"/><rect x="1011" y="534.1" width="87.5" height="2.6" fill="#a2a2a2"/><rect x="810.5" y="510.4" width="43.0" height="23.7" fill="url(#pipeStrip)"/><rect x="810.5" y="533.6" width="43.0" height="3.5" fill="#ececea"/><rect x="970" y="510.4" width="41" height="23.7" fill="url(#stripB)"/><rect x="970" y="533.6" width="41" height="3.5" fill="#ececec"/><rect x="1098.5" y="509.4" width="29.5" height="24.2" fill="#1c1c1c"/><path d="M1105.5 510.4 L1125 510.4 Q1128 523.2 1125 532.6 L1105.5 532.6 Z" fill="#6d6d6d" opacity="0.9"/><rect x="1098.5" y="533.6" width="29.5" height="3.5" fill="#e6e6e6"/><path d="M692 537.1 L721.5 537.1 L721.5 561.1 Z" fill="#a2a2a2"/><rect x="721.5" y="561.8" width="89.0" height="2.6" fill="#a2a2a2"/><rect x="853.5" y="561.8" width="116.5" height="2.6" fill="#a2a2a2"/><rect x="1011" y="561.8" width="87.5" height="2.6" fill="#a2a2a2"/><rect x="810.5" y="538.1" width="43.0" height="23.7" fill="url(#pipeStrip)"/><rect x="810.5" y="561.3" width="43.0" height="3.5" fill="#ececea"/><rect x="970" y="538.1" width="41" height="23.7" fill="url(#stripB)"/><rect x="970" y="561.3" width="41" height="3.5" fill="#ececec"/><rect x="1098.5" y="537.1" width="29.5" height="24.2" fill="#1c1c1c"/><path d="M1105.5 538.1 L1125 538.1 Q1128 550.9 1125 560.3 L1105.5 560.3 Z" fill="#757575" opacity="0.9"/><rect x="1098.5" y="561.3" width="29.5" height="3.5" fill="#e6e6e6"/><path d="M692 564.8 L721.5 564.8 L721.5 588.4 Z" fill="#a2a2a2"/><rect x="721.5" y="589.4" width="89.0" height="2.6" fill="#a2a2a2"/><rect x="853.5" y="589.4" width="116.5" height="2.6" fill="#a2a2a2"/><rect x="1011" y="589.4" width="87.5" height="2.6" fill="#a2a2a2"/><rect x="810.5" y="565.8" width="43.0" height="23.7" fill="url(#pipeStrip)"/><rect x="810.5" y="588.9" width="43.0" height="3.5" fill="#ececea"/><rect x="970" y="565.8" width="41" height="23.7" fill="url(#stripB)"/><rect x="970" y="588.9" width="41" height="3.5" fill="#ececec"/><rect x="1098.5" y="564.8" width="29.5" height="24.2" fill="#1c1c1c"/><path d="M1105.5 565.8 L1125 565.8 Q1128 578.6 1125 587.9 L1105.5 587.9 Z" fill="#7d7d7d" opacity="0.9"/><rect x="1098.5" y="588.9" width="29.5" height="3.5" fill="#e6e6e6"/><path d="M692 592.4 L721.5 592.4 L721.5 613.8 Z" fill="#a2a2a2"/><rect x="721.5" y="617.1" width="89.0" height="2.6" fill="#a2a2a2"/><rect x="853.5" y="617.1" width="116.5" height="2.6" fill="#a2a2a2"/><rect x="1011" y="617.1" width="87.5" height="2.6" fill="#a2a2a2"/><rect x="810.5" y="593.4" width="43.0" height="23.7" fill="url(#pipeStrip)"/><rect x="810.5" y="616.6" width="43.0" height="3.5" fill="#ececea"/><rect x="970" y="593.4" width="41" height="23.7" fill="url(#stripB)"/><rect x="970" y="616.6" width="41" height="3.5" fill="#ececec"/><rect x="1098.5" y="592.4" width="29.5" height="24.2" fill="#1c1c1c"/><path d="M1105.5 593.4 L1125 593.4 Q1128 606.3 1125 615.6 L1105.5 615.6 Z" fill="#868686" opacity="0.9"/><rect x="1098.5" y="616.6" width="29.5" height="3.5" fill="#e6e6e6"/><path d="M692 620.1 L721.5 620.1 L721.5 639.1 Z" fill="#a2a2a2"/><rect x="721.5" y="644.8" width="89.0" height="2.6" fill="#a2a2a2"/><rect x="853.5" y="644.8" width="116.5" height="2.6" fill="#a2a2a2"/><rect x="1011" y="644.8" width="87.5" height="2.6" fill="#a2a2a2"/><rect x="810.5" y="621.1" width="43.0" height="23.7" fill="url(#pipeStrip)"/><rect x="810.5" y="644.3" width="43.0" height="3.5" fill="#ececea"/><rect x="970" y="621.1" width="41" height="23.7" fill="url(#stripB)"/><rect x="970" y="644.3" width="41" height="3.5" fill="#ececec"/><rect x="1098.5" y="620.1" width="29.5" height="24.2" fill="#1c1c1c"/><path d="M1105.5 621.1 L1125 621.1 Q1128 634.0 1125 643.3 L1105.5 643.3 Z" fill="#8e8e8e" opacity="0.9"/><rect x="1098.5" y="644.3" width="29.5" height="3.5" fill="#e6e6e6"/><path d="M692 647.8 L721.5 647.8 L721.5 664.5 Z" fill="#a2a2a2"/><rect x="721.5" y="672.5" width="89.0" height="2.6" fill="#a2a2a2"/><rect x="853.5" y="672.5" width="116.5" height="2.6" fill="#a2a2a2"/><rect x="1011" y="672.5" width="87.5" height="2.6" fill="#a2a2a2"/><rect x="810.5" y="648.8" width="43.0" height="23.7" fill="url(#pipeStrip)"/><rect x="810.5" y="672.0" width="43.0" height="3.5" fill="#ececea"/><rect x="970" y="648.8" width="41" height="23.7" fill="url(#stripB)"/><rect x="970" y="672.0" width="41" height="3.5" fill="#ececec"/><rect x="1098.5" y="647.8" width="29.5" height="24.2" fill="#1c1c1c"/><path d="M1105.5 648.8 L1125 648.8 Q1128 661.6 1125 671.0 L1105.5 671.0 Z" fill="#909090" opacity="0.9"/><rect x="1098.5" y="672.0" width="29.5" height="3.5" fill="#e6e6e6"/><path d="M692 675.5 L721.5 675.5 L721.5 689.9 Z" fill="#a2a2a2"/><rect x="721.5" y="700.1" width="89.0" height="2.6" fill="#a2a2a2"/><rect x="853.5" y="700.1" width="116.5" height="2.6" fill="#a2a2a2"/><rect x="1011" y="700.1" width="87.5" height="2.6" fill="#a2a2a2"/><rect x="810.5" y="676.5" width="43.0" height="23.7" fill="url(#pipeStrip)"/><rect x="810.5" y="699.6" width="43.0" height="3.5" fill="#ececea"/><rect x="970" y="676.5" width="41" height="23.7" fill="url(#stripB)"/><rect x="970" y="699.6" width="41" height="3.5" fill="#ececec"/><rect x="1098.5" y="699.6" width="29.5" height="3.5" fill="#f4f4f4"/><path d="M1098.5 675.5 L1128 675.5 L1128 687.5 Q1116 695.4 1106.5 695.4 L1106.5 699.6 L1098.5 699.6 Z" fill="url(#stripC2)"/><path d="M692 703.1 L721.5 703.1 L721.5 715.3 Z" fill="#a2a2a2"/><rect x="721.5" y="727.8" width="89.0" height="2.6" fill="#a2a2a2"/><rect x="853.5" y="727.8" width="116.5" height="2.6" fill="#a2a2a2"/><rect x="1011" y="727.8" width="87.5" height="2.6" fill="#a2a2a2"/><rect x="810.5" y="704.1" width="43.0" height="23.7" fill="url(#pipeStrip)"/><rect x="810.5" y="727.3" width="43.0" height="3.5" fill="#ececea"/><rect x="970" y="704.1" width="41" height="23.7" fill="url(#stripB)"/><rect x="970" y="727.3" width="41" height="3.5" fill="#ececec"/><rect x="1098.5" y="727.3" width="29.5" height="3.5" fill="#f4f4f4"/><path d="M1098.5 703.1 L1128 703.1 L1128 712.3 Q1116 718.3 1106.5 718.3 L1106.5 727.3 L1098.5 727.3 Z" fill="url(#stripC2)"/><path d="M692 730.8 L721.5 730.8 L721.5 740.7 Z" fill="#a2a2a2"/><rect x="721.5" y="755.5" width="89.0" height="2.6" fill="#a2a2a2"/><rect x="853.5" y="755.5" width="116.5" height="2.6" fill="#a2a2a2"/><rect x="1011" y="755.5" width="87.5" height="2.6" fill="#a2a2a2"/><rect x="810.5" y="731.8" width="43.0" height="23.7" fill="url(#pipeStrip)"/><rect x="810.5" y="755.0" width="43.0" height="3.5" fill="#ececea"/><rect x="970" y="731.8" width="41" height="23.7" fill="url(#stripB)"/><rect x="970" y="755.0" width="41" height="3.5" fill="#ececec"/><rect x="1098.5" y="755.0" width="29.5" height="3.5" fill="#f4f4f4"/><path d="M1098.5 730.8 L1128 730.8 L1128 737.1 Q1116 741.2 1106.5 741.2 L1106.5 755.0 L1098.5 755.0 Z" fill="url(#stripC2)"/><path d="M692 758.5 L721.5 758.5 L721.5 766.1 Z" fill="#a2a2a2"/><rect x="696" y="783.6" width="25.5" height="2.2" fill="#c4c4c4"/><rect x="721.5" y="783.2" width="89.0" height="2.6" fill="#a2a2a2"/><rect x="853.5" y="783.2" width="116.5" height="2.6" fill="#a2a2a2"/><rect x="1011" y="783.2" width="87.5" height="2.6" fill="#a2a2a2"/><rect x="810.5" y="759.5" width="43.0" height="23.7" fill="url(#pipeStrip)"/><rect x="810.5" y="782.7" width="43.0" height="3.5" fill="#ececea"/><rect x="970" y="759.5" width="41" height="23.7" fill="url(#stripB)"/><rect x="970" y="782.7" width="41" height="3.5" fill="#ececec"/><rect x="1098.5" y="782.7" width="29.5" height="3.5" fill="#f4f4f4"/><path d="M1098.5 758.5 L1128 758.5 L1128 761.9 Q1116 764.1 1106.5 764.1 L1106.5 782.7 L1098.5 782.7 Z" fill="url(#stripC2)"/><path d="M692 786.2 L721.5 786.2 L721.5 791.5 Z" fill="#a2a2a2"/><rect x="696" y="811.3" width="25.5" height="2.2" fill="#c4c4c4"/><rect x="721.5" y="810.9" width="89.0" height="2.6" fill="#a2a2a2"/><rect x="853.5" y="810.9" width="116.5" height="2.6" fill="#a2a2a2"/><rect x="1011" y="810.9" width="87.5" height="2.6" fill="#a2a2a2"/><rect x="810.5" y="787.2" width="43.0" height="23.7" fill="url(#pipeStrip)"/><rect x="810.5" y="810.4" width="43.0" height="3.5" fill="#ececea"/><rect x="970" y="787.2" width="41" height="23.7" fill="url(#stripB)"/><rect x="970" y="810.4" width="41" height="3.5" fill="#ececec"/><rect x="1098.5" y="810.4" width="29.5" height="3.5" fill="#f4f4f4"/><path d="M1098.5 786.2 L1128 786.2 L1128 786.7 Q1116 787.0 1106.5 787.0 L1106.5 810.4 L1098.5 810.4 Z" fill="url(#stripC2)"/><path d="M692 813.9 L721.5 813.9 L721.5 816.8 Z" fill="#a2a2a2"/><rect x="696" y="838.9" width="25.5" height="2.2" fill="#c4c4c4"/><rect x="721.5" y="838.5" width="89.0" height="2.6" fill="#a2a2a2"/><rect x="853.5" y="838.5" width="116.5" height="2.6" fill="#a2a2a2"/><rect x="1011" y="838.5" width="87.5" height="2.6" fill="#a2a2a2"/><rect x="810.5" y="814.9" width="43.0" height="23.7" fill="url(#pipeStrip)"/><rect x="810.5" y="838.0" width="43.0" height="3.5" fill="#ececea"/><rect x="970" y="814.9" width="41" height="23.7" fill="url(#stripB)"/><rect x="970" y="838.0" width="41" height="3.5" fill="#ececec"/><rect x="1098.5" y="838.5" width="29.5" height="2" fill="#8a8a8a" opacity="0.7"/><path d="M692 841.5 L721.5 841.5 L721.5 842.2 Z" fill="#a2a2a2"/><rect x="696" y="866.6" width="25.5" height="2.2" fill="#c4c4c4"/><rect x="721.5" y="866.2" width="89.0" height="2.6" fill="#a2a2a2"/><rect x="853.5" y="866.2" width="116.5" height="2.6" fill="#a2a2a2"/><rect x="1011" y="866.2" width="87.5" height="2.6" fill="#a2a2a2"/><rect x="810.5" y="842.5" width="43.0" height="23.7" fill="url(#pipeStrip)"/><rect x="810.5" y="865.7" width="43.0" height="3.5" fill="#ececea"/><rect x="970" y="842.5" width="41" height="23.7" fill="url(#stripB)"/><rect x="970" y="865.7" width="41" height="3.5" fill="#ececec"/><rect x="1098.5" y="866.2" width="29.5" height="2" fill="#8a8a8a" opacity="0.7"/><rect x="696" y="894.3" width="25.5" height="2.2" fill="#c4c4c4"/><rect x="721.5" y="893.9" width="89.0" height="2.6" fill="#a2a2a2"/><rect x="853.5" y="893.9" width="116.5" height="2.6" fill="#a2a2a2"/><rect x="1011" y="893.9" width="87.5" height="2.6" fill="#a2a2a2"/><rect x="810.5" y="870.2" width="43.0" height="23.7" fill="url(#pipeStrip)"/><rect x="810.5" y="893.4" width="43.0" height="3.5" fill="#ececea"/><rect x="970" y="870.2" width="41" height="23.7" fill="url(#stripB)"/><rect x="970" y="893.4" width="41" height="3.5" fill="#ececec"/><rect x="1098.5" y="893.9" width="29.5" height="2" fill="#8a8a8a" opacity="0.7"/><path d="M692 924.6 L721.5 924.6 L721.5 922.3 Z" fill="#a8a8a8"/><rect x="696" y="922.0" width="25.5" height="2.2" fill="#c4c4c4"/><rect x="721.5" y="921.6" width="89.0" height="2.6" fill="#a2a2a2"/><rect x="853.5" y="921.6" width="116.5" height="2.6" fill="#a2a2a2"/><rect x="1011" y="921.6" width="87.5" height="2.6" fill="#a2a2a2"/><rect x="810.5" y="897.9" width="43.0" height="23.7" fill="url(#pipeStrip)"/><rect x="810.5" y="921.1" width="43.0" height="3.5" fill="#ececea"/><rect x="970" y="897.9" width="41" height="23.7" fill="url(#stripB)"/><rect x="970" y="921.1" width="41" height="3.5" fill="#ececec"/><rect x="1098.5" y="921.6" width="29.5" height="2" fill="#8a8a8a" opacity="0.7"/><path d="M692 952.2 L721.5 952.2 L721.5 946.7 Z" fill="#a8a8a8"/><rect x="696" y="949.6" width="25.5" height="2.2" fill="#c4c4c4"/><rect x="721.5" y="949.2" width="89.0" height="2.6" fill="#a2a2a2"/><rect x="853.5" y="949.2" width="116.5" height="2.6" fill="#a2a2a2"/><rect x="1011" y="949.2" width="87.5" height="2.6" fill="#a2a2a2"/><rect x="810.5" y="925.6" width="43.0" height="23.7" fill="url(#pipeStrip)"/><rect x="810.5" y="948.7" width="43.0" height="3.5" fill="#ececea"/><rect x="970" y="925.6" width="41" height="23.7" fill="url(#stripB)"/><rect x="970" y="948.7" width="41" height="3.5" fill="#ececec"/><rect x="1098.5" y="949.2" width="29.5" height="2" fill="#8a8a8a" opacity="0.7"/><path d="M692 979.9 L721.5 979.9 L721.5 971.2 Z" fill="#a8a8a8"/><rect x="721.5" y="976.9" width="89.0" height="2.6" fill="#a2a2a2"/><rect x="853.5" y="976.9" width="116.5" height="2.6" fill="#a2a2a2"/><rect x="1011" y="976.9" width="87.5" height="2.6" fill="#a2a2a2"/><rect x="810.5" y="953.2" width="43.0" height="23.7" fill="url(#pipeStrip)"/><rect x="810.5" y="976.4" width="43.0" height="3.5" fill="#ececea"/><rect x="970" y="953.2" width="41" height="23.7" fill="url(#stripB)"/><rect x="970" y="976.4" width="41" height="3.5" fill="#ececec"/><rect x="1098.5" y="976.9" width="29.5" height="2" fill="#8a8a8a" opacity="0.7"/><path d="M692 1007.6 L721.5 1007.6 L721.5 995.7 Z" fill="#a8a8a8"/><rect x="721.5" y="1004.6" width="89.0" height="2.6" fill="#a2a2a2"/><rect x="853.5" y="1004.6" width="116.5" height="2.6" fill="#a2a2a2"/><rect x="1011" y="1004.6" width="87.5" height="2.6" fill="#a2a2a2"/><rect x="810.5" y="980.9" width="43.0" height="23.7" fill="url(#pipeStrip)"/><rect x="810.5" y="1004.1" width="43.0" height="3.5" fill="#ececea"/><rect x="970" y="980.9" width="41" height="23.7" fill="url(#stripB)"/><rect x="970" y="1004.1" width="41" height="3.5" fill="#ececec"/><path d="M1098.5 980.9 L1122 980.9 Q1128 993.8 1124 1004.1 L1098.5 1004.1 Z" fill="url(#stripC2)"/><rect x="1098.5" y="1004.1" width="29.5" height="3.5" fill="#e6e6e6"/><path d="M692 1035.3 L721.5 1035.3 L721.5 1020.1 Z" fill="#a8a8a8"/><rect x="721.5" y="1032.3" width="89.0" height="2.6" fill="#a2a2a2"/><rect x="853.5" y="1032.3" width="116.5" height="2.6" fill="#a2a2a2"/><rect x="1011" y="1032.3" width="87.5" height="2.6" fill="#a2a2a2"/><rect x="810.5" y="1008.6" width="43.0" height="23.7" fill="url(#pipeStrip)"/><rect x="810.5" y="1031.8" width="43.0" height="3.5" fill="#ececea"/><rect x="970" y="1008.6" width="41" height="23.7" fill="url(#stripB)"/><rect x="970" y="1031.8" width="41" height="3.5" fill="#ececec"/><path d="M1098.5 1008.6 L1122 1008.6 Q1128 1021.4 1124 1031.8 L1098.5 1031.8 Z" fill="url(#stripC2)"/><rect x="1098.5" y="1031.8" width="29.5" height="3.5" fill="#e6e6e6"/><path d="M692 1062.9 L721.5 1062.9 L721.5 1044.6 Z" fill="#a8a8a8"/><rect x="721.5" y="1059.9" width="89.0" height="2.6" fill="#a2a2a2"/><rect x="853.5" y="1059.9" width="116.5" height="2.6" fill="#a2a2a2"/><rect x="1011" y="1059.9" width="87.5" height="2.6" fill="#a2a2a2"/><rect x="810.5" y="1036.3" width="43.0" height="23.7" fill="url(#pipeStrip)"/><rect x="810.5" y="1059.4" width="43.0" height="3.5" fill="#ececea"/><rect x="970" y="1036.3" width="41" height="23.7" fill="url(#stripB)"/><rect x="970" y="1059.4" width="41" height="3.5" fill="#ececec"/><path d="M1098.5 1036.3 L1122 1036.3 Q1128 1049.1 1124 1059.4 L1098.5 1059.4 Z" fill="url(#stripC2)"/><rect x="1098.5" y="1059.4" width="29.5" height="3.5" fill="#e6e6e6"/><path d="M692 1090.6 L721.5 1090.6 L721.5 1069.0 Z" fill="#a8a8a8"/><rect x="721.5" y="1087.6" width="89.0" height="2.6" fill="#a2a2a2"/><rect x="853.5" y="1087.6" width="116.5" height="2.6" fill="#a2a2a2"/><rect x="1011" y="1087.6" width="87.5" height="2.6" fill="#a2a2a2"/><rect x="810.5" y="1063.9" width="43.0" height="23.7" fill="url(#pipeStrip)"/><rect x="810.5" y="1087.1" width="43.0" height="3.5" fill="#ececea"/><rect x="970" y="1063.9" width="41" height="23.7" fill="url(#stripB)"/><rect x="970" y="1087.1" width="41" height="3.5" fill="#ececec"/><path d="M1098.5 1063.9 L1122 1063.9 Q1128 1076.8 1124 1087.1 L1098.5 1087.1 Z" fill="url(#stripC2)"/><rect x="1098.5" y="1087.1" width="29.5" height="3.5" fill="#e6e6e6"/><path d="M692 1118.3 L721.5 1118.3 L721.5 1093.5 Z" fill="#a8a8a8"/><rect x="721.5" y="1115.3" width="89.0" height="2.6" fill="#a2a2a2"/><rect x="853.5" y="1115.3" width="116.5" height="2.6" fill="#a2a2a2"/><rect x="1011" y="1115.3" width="87.5" height="2.6" fill="#a2a2a2"/><rect x="810.5" y="1091.6" width="43.0" height="23.7" fill="url(#pipeStrip)"/><rect x="810.5" y="1114.8" width="43.0" height="3.5" fill="#ececea"/><rect x="970" y="1091.6" width="41" height="23.7" fill="url(#stripB)"/><rect x="970" y="1114.8" width="41" height="3.5" fill="#ececec"/><path d="M1098.5 1091.6 L1122 1091.6 Q1128 1104.5 1124 1114.8 L1098.5 1114.8 Z" fill="url(#stripC2)"/><rect x="1098.5" y="1114.8" width="29.5" height="3.5" fill="#e6e6e6"/><path d="M692 1146.0 L721.5 1146.0 L721.5 1121.0 Z" fill="#a8a8a8"/><rect x="721.5" y="1143.0" width="89.0" height="2.6" fill="#a2a2a2"/><rect x="853.5" y="1143.0" width="116.5" height="2.6" fill="#a2a2a2"/><rect x="1011" y="1143.0" width="87.5" height="2.6" fill="#a2a2a2"/><rect x="810.5" y="1119.3" width="43.0" height="23.7" fill="url(#pipeStrip)"/><rect x="810.5" y="1142.5" width="43.0" height="3.5" fill="#ececea"/><rect x="970" y="1119.3" width="41" height="23.7" fill="url(#stripB)"/><rect x="970" y="1142.5" width="41" height="3.5" fill="#ececec"/><path d="M1098.5 1119.3 L1122 1119.3 Q1128 1132.1 1124 1142.5 L1098.5 1142.5 Z" fill="url(#stripC2)"/><rect x="1098.5" y="1142.5" width="29.5" height="3.5" fill="#e6e6e6"/><path d="M692 1173.6 L721.5 1173.6 L721.5 1148.6 Z" fill="#a8a8a8"/><rect x="721.5" y="1170.6" width="89.0" height="2.6" fill="#a2a2a2"/><rect x="853.5" y="1170.6" width="116.5" height="2.6" fill="#a2a2a2"/><rect x="1011" y="1170.6" width="87.5" height="2.6" fill="#a2a2a2"/><rect x="810.5" y="1147.0" width="43.0" height="23.7" fill="url(#pipeStrip)"/><rect x="810.5" y="1170.1" width="43.0" height="3.5" fill="#ececea"/><rect x="970" y="1147.0" width="41" height="23.7" fill="url(#stripB)"/><rect x="970" y="1170.1" width="41" height="3.5" fill="#ececec"/><path d="M1098.5 1147.0 L1122 1147.0 Q1128 1159.8 1124 1170.1 L1098.5 1170.1 Z" fill="url(#stripC2)"/><rect x="1098.5" y="1170.1" width="29.5" height="3.5" fill="#e6e6e6"/><path d="M692 1201.3 L721.5 1201.3 L721.5 1176.3 Z" fill="#a8a8a8"/><rect x="721.5" y="1198.3" width="89.0" height="2.6" fill="#a2a2a2"/><rect x="853.5" y="1198.3" width="116.5" height="2.6" fill="#a2a2a2"/><rect x="1011" y="1198.3" width="87.5" height="2.6" fill="#a2a2a2"/><rect x="810.5" y="1174.6" width="43.0" height="23.7" fill="url(#pipeStrip)"/><rect x="810.5" y="1197.8" width="43.0" height="3.5" fill="#ececea"/><rect x="970" y="1174.6" width="41" height="23.7" fill="url(#stripB)"/><rect x="970" y="1197.8" width="41" height="3.5" fill="#ececec"/><path d="M1098.5 1174.6 L1122 1174.6 Q1128 1187.5 1124 1197.8 L1098.5 1197.8 Z" fill="url(#stripC2)"/><rect x="1098.5" y="1197.8" width="29.5" height="3.5" fill="#e6e6e6"/><path d="M692 1229.0 L721.5 1229.0 L721.5 1204.0 Z" fill="#a8a8a8"/><rect x="721.5" y="1226.0" width="89.0" height="2.6" fill="#a2a2a2"/><rect x="853.5" y="1226.0" width="116.5" height="2.6" fill="#a2a2a2"/><rect x="1011" y="1226.0" width="87.5" height="2.6" fill="#a2a2a2"/><rect x="810.5" y="1202.3" width="43.0" height="23.7" fill="url(#pipeStrip)"/><rect x="810.5" y="1225.5" width="43.0" height="3.5" fill="#ececea"/><rect x="970" y="1202.3" width="41" height="23.7" fill="url(#stripB)"/><rect x="970" y="1225.5" width="41" height="3.5" fill="#ececec"/><path d="M1098.5 1202.3 L1122 1202.3 Q1128 1215.2 1124 1225.5 L1098.5 1225.5 Z" fill="url(#stripC2)"/><rect x="1098.5" y="1225.5" width="29.5" height="3.5" fill="#e6e6e6"/><rect x="810.5" y="289.0" width="43.0" height="23.7" fill="#1a0c06" opacity="0.02"/><rect x="810.5" y="316.7" width="43.0" height="23.7" fill="#1a0c06" opacity="0.03"/><rect x="810.5" y="344.4" width="43.0" height="23.7" fill="#1a0c06" opacity="0.04"/><rect x="810.5" y="372.0" width="43.0" height="23.7" fill="#1a0c06" opacity="0.05"/><rect x="810.5" y="399.7" width="43.0" height="23.7" fill="#1a0c06" opacity="0.06"/><rect x="810.5" y="427.4" width="43.0" height="23.7" fill="#1a0c06" opacity="0.07"/><rect x="810.5" y="455.1" width="43.0" height="23.7" fill="#1a0c06" opacity="0.07"/><rect x="810.5" y="482.7" width="43.0" height="23.7" fill="#1a0c06" opacity="0.08"/><rect x="810.5" y="510.4" width="43.0" height="23.7" fill="#1a0c06" opacity="0.09"/><rect x="810.5" y="538.1" width="43.0" height="23.7" fill="#1a0c06" opacity="0.10"/><rect x="810.5" y="565.8" width="43.0" height="23.7" fill="#1a0c06" opacity="0.11"/><rect x="810.5" y="593.4" width="43.0" height="23.7" fill="#1a0c06" opacity="0.12"/><rect x="810.5" y="621.1" width="43.0" height="23.7" fill="#1a0c06" opacity="0.13"/><rect x="810.5" y="648.8" width="43.0" height="23.7" fill="#1a0c06" opacity="0.14"/><rect x="810.5" y="676.5" width="43.0" height="23.7" fill="#1a0c06" opacity="0.15"/><rect x="810.5" y="704.1" width="43.0" height="23.7" fill="#1a0c06" opacity="0.16"/><rect x="810.5" y="731.8" width="43.0" height="23.7" fill="#1a0c06" opacity="0.17"/><rect x="810.5" y="759.5" width="43.0" height="23.7" fill="#1a0c06" opacity="0.17"/><rect x="810.5" y="787.2" width="43.0" height="23.7" fill="#1a0c06" opacity="0.18"/><rect x="810.5" y="814.9" width="43.0" height="23.7" fill="#1a0c06" opacity="0.19"/><rect x="810.5" y="842.5" width="43.0" height="23.7" fill="#1a0c06" opacity="0.20"/><rect x="810.5" y="870.2" width="43.0" height="23.7" fill="#1a0c06" opacity="0.21"/><rect x="810.5" y="897.9" width="43.0" height="23.7" fill="#1a0c06" opacity="0.22"/><rect x="810.5" y="925.6" width="43.0" height="23.7" fill="#1a0c06" opacity="0.23"/><rect x="810.5" y="953.2" width="43.0" height="23.7" fill="#1a0c06" opacity="0.24"/><rect x="810.5" y="980.9" width="43.0" height="23.7" fill="#1a0c06" opacity="0.25"/><rect x="810.5" y="1008.6" width="43.0" height="23.7" fill="#1a0c06" opacity="0.26"/><rect x="810.5" y="1036.3" width="43.0" height="23.7" fill="#1a0c06" opacity="0.27"/><rect x="810.5" y="1063.9" width="43.0" height="23.7" fill="#1a0c06" opacity="0.27"/><rect x="810.5" y="1091.6" width="43.0" height="23.7" fill="#1a0c06" opacity="0.28"/><rect x="810.5" y="1119.3" width="43.0" height="23.7" fill="#1a0c06" opacity="0.29"/><rect x="810.5" y="1147.0" width="43.0" height="23.7" fill="#1a0c06" opacity="0.30"/><rect x="810.5" y="1174.6" width="43.0" height="23.7" fill="#1a0c06" opacity="0.31"/><rect x="810.5" y="1202.3" width="43.0" height="23.7" fill="#1a0c06" opacity="0.32"/><rect x="720.0" y="288.0" width="2.5" height="941.0" fill="#9a9a9a"/><rect x="692" y="288.0" width="436" height="1" fill="#d0d0d0"/><path d="M1149 245 L1352 245 Q1364 245 1364 259 L1364 1314 L1360 1318 L1147 1318 L1140 1288 L1140 560 L1142 380 Q1143 251 1149 245 Z" fill="#393939"/><rect x="1152" y="245" width="202" height="5" fill="#333" /><rect x="1363" y="260" width="9" height="219" rx="2" fill="#2a2a2a"/><rect x="1363" y="1083" width="9" height="219" rx="2" fill="#2a2a2a"/><rect x="1137.5" y="505" width="9" height="650" fill="url(#rgb)"/><rect x="1138.5" y="1154" width="8" height="150" fill="#161616"/><rect x="1146" y="285" width="4" height="1000" fill="#333" opacity="0.7"/><rect x="1152" y="270" width="24" height="1030" fill="#3d3d3d"/><rect x="1338" y="270" width="24" height="1030" fill="#3d3d3d"/><path d="M1178 267 Q1178 259 1186 259 L1242 259 Q1248 259 1248 267 L1248 1294 Q1248 1302 1240 1302 L1186 1302 Q1178 1302 1178 1294 L1178 947 L1199 905 L1199 671 L1178 617 Z" fill="url(#recG)"/><path d="M1266 267 Q1266 259 1274 259 L1328 259 Q1336 259 1336 267 L1336 617 L1310 671 L1310 905 L1336 947 L1336 1294 Q1336 1302 1328 1302 L1274 1302 Q1266 1302 1266 1294 Z" fill="url(#recG)"/><rect x="1197" y="668" width="3" height="240" fill="#0a0a0a"/><rect x="1310" y="668" width="3" height="240" fill="#0a0a0a"/><rect x="1248" y="259" width="18" height="1043" fill="#3c3c3c"/><path d="M1243 560 Q1248 700 1254 790 Q1248 880 1243 1020 L1240 1020 L1240 560 Z" fill="#111" opacity="0.8"/><path d="M1270 560 Q1265 700 1259 790 Q1265 880 1270 1020 L1273 1020 L1273 560 Z" fill="#111" opacity="0.8"/><path d="M1185 405 Q1195 412 1215 412 L1240 412" stroke="#2a2a2a" stroke-width="2" fill="none"/><path d="M1272 405 Q1282 412 1300 412 L1320 412" stroke="#2a2a2a" stroke-width="2" fill="none"/><path d="M1185 1168 Q1195 1160 1215 1160 L1240 1160" stroke="#2a2a2a" stroke-width="2" fill="none"/><path d="M1272 1168 Q1282 1160 1300 1160 L1320 1160" stroke="#2a2a2a" stroke-width="2" fill="none"/><path d="M1380 305 L1258 384 Q1253 388 1250 394 L1157 591 Q1154 597 1146 597 L986 597 L986 968 L1146 968 Q1154 968 1158 974 L1256 1160 Q1260 1166 1266 1170 L1388 1244" stroke="#8a8a8a" stroke-width="5" fill="none" stroke-linejoin="round" stroke-linecap="round"/><path d="M1380 305 L1258 384 Q1253 388 1250 394 L1157 591 Q1154 597 1146 597 L986 597 L986 968 L1146 968 Q1154 968 1158 974 L1256 1160 Q1260 1166 1266 1170 L1388 1244" stroke="#d2d2d2" stroke-width="3.2" fill="none" stroke-linejoin="round" stroke-linecap="round"/><rect x="982" y="885" width="9" height="5" fill="#888"/></svg></body></html>
